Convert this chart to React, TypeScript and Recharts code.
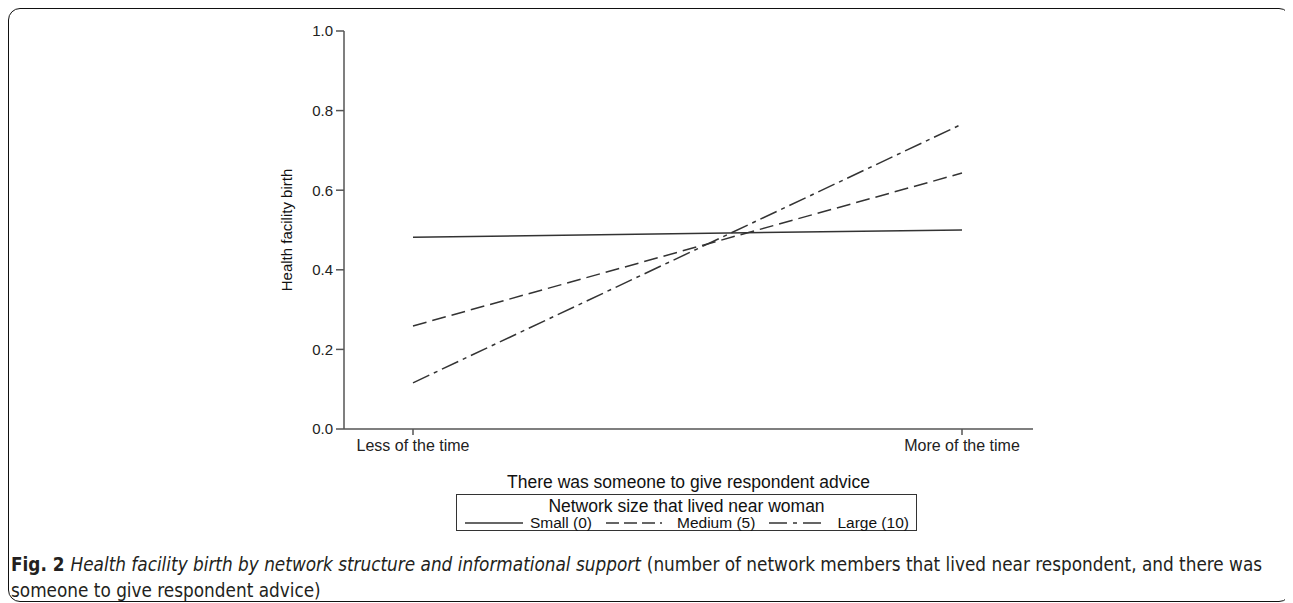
import React from 'react'
import { LineChart, Line, XAxis, YAxis, Label } from 'recharts'

const categories = ['Less of the time', 'More of the time']
const smallNetwork = [0.482, 0.5]
const mediumNetwork = [0.259, 0.643]
const largeNetwork = [0.116, 0.766]
const yTicks = [0, 0.2, 0.4, 0.6, 0.8, 1.0]

const seriesNames = ['Small (0)', 'Medium (5)', 'Large (10)']
const dashes = ['', '14 6', '18 5 4 5']
const legendDashes = ['', '13 5 13 5 13 5 2', '18 6 4 6 18']
const legendSampleWidths = [58, 64, 61]

const ink = '#333'
const font = '"Liberation Sans", Arial, sans-serif'

const data = categories.map((cat, i) => ({
  cat,
  small: smallNetwork[i],
  medium: mediumNetwork[i],
  large: largeNetwork[i],
}))

function LegendBox() {
  return (
    <div
      style={{
        position: 'absolute',
        left: 447,
        top: 485,
        width: 461,
        height: 37,
        border: '1px solid #333',
        boxSizing: 'border-box',
        fontFamily: font,
        color: '#111',
        paddingTop: 2,
      }}
    >
      <div style={{ textAlign: 'center', fontSize: 17.5, lineHeight: '18px' }}>
        Network size that lived near woman
      </div>
      <div
        style={{
          display: 'flex',
          alignItems: 'center',
          paddingLeft: 8,
          fontSize: 15.5,
          lineHeight: '16px',
        }}
      >
        {seriesNames.map((name, i) => (
          <span key={name} style={{ display: 'flex', alignItems: 'center' }}>
            <svg
              width={legendSampleWidths[i]}
              height={10}
              style={{ marginLeft: i === 0 ? 0 : 14, marginRight: 7 }}
            >
              <line
                x1={0}
                y1={5}
                x2={legendSampleWidths[i]}
                y2={5}
                stroke={ink}
                strokeWidth={1.3}
                strokeDasharray={legendDashes[i] || undefined}
              />
            </svg>
            <span>{name}</span>
          </span>
        ))}
      </div>
    </div>
  )
}

export default function App() {
  return (
    <div
      style={{
        position: 'relative',
        width: 1283,
        height: 594,
        border: '1.5px solid #111',
        borderRadius: 12,
        boxSizing: 'border-box',
        background: '#fff',
      }}
    >
      <style>{'html,body{overflow:hidden}'}</style>
      <div style={{ position: 'absolute', left: 0, top: 0 }}>
        <LineChart
          width={1100}
          height={520}
          data={data}
          margin={{ top: 22, right: 76, bottom: 38, left: 275 }}
        >
          <XAxis
            dataKey="cat"
            type="category"
            padding={{ left: 69, right: 71 }}
            height={62}
            tickSize={6}
            tickMargin={5}
            stroke="#555"
            strokeWidth={1.5}
            tick={{ fill: '#222', fontSize: 16, fontFamily: font }}
          >
            <Label
              value="There was someone to give respondent advice"
              position="insideBottom"
              offset={3}
              style={{ fill: '#111', fontSize: 17.5, fontFamily: font }}
            />
          </XAxis>
          <YAxis
            domain={[0, 1]}
            ticks={yTicks}
            width={60}
            tickSize={8}
            tickMargin={3}
            tickFormatter={(v: number) => v.toFixed(1)}
            stroke="#555"
            strokeWidth={1.5}
            tick={{ fill: '#222', fontSize: 15, fontFamily: font }}
          >
            <Label
              value="Health facility birth"
              angle={-90}
              position="insideLeft"
              offset={3}
              style={{ fill: '#111', fontSize: 15, fontFamily: font, textAnchor: 'middle' }}
            />
          </YAxis>
          <Line
            dataKey="small"
            stroke={ink}
            strokeWidth={1.5}
            dot={false}
            isAnimationActive={false}
          />
          <Line
            dataKey="medium"
            stroke={ink}
            strokeWidth={1.5}
            strokeDasharray={dashes[1]}
            dot={false}
            isAnimationActive={false}
          />
          <Line
            dataKey="large"
            stroke={ink}
            strokeWidth={1.5}
            strokeDasharray={dashes[2]}
            dot={false}
            isAnimationActive={false}
          />
        </LineChart>
      </div>
      <LegendBox />
      <div
        style={{
          position: 'absolute',
          left: 2,
          top: 543,
          width: 1275,
          fontFamily: '"Liberation Sans Narrow", "DejaVu Sans Condensed", "Open Sans", sans-serif',
          fontSize: 18.8,
          lineHeight: '26px',
          color: '#231f20',
          whiteSpace: 'nowrap',
        }}
      >
        <div>
          <b>Fig. 2</b>
          <i style={{ marginLeft: 6, marginRight: 6 }}>
            Health facility birth by network structure and informational support
          </i>
          <span>
            (number of network members that lived near respondent, and there was
          </span>
        </div>
        <div>
          <span>someone to give respondent advice)</span>
        </div>
      </div>
    </div>
  )
}
